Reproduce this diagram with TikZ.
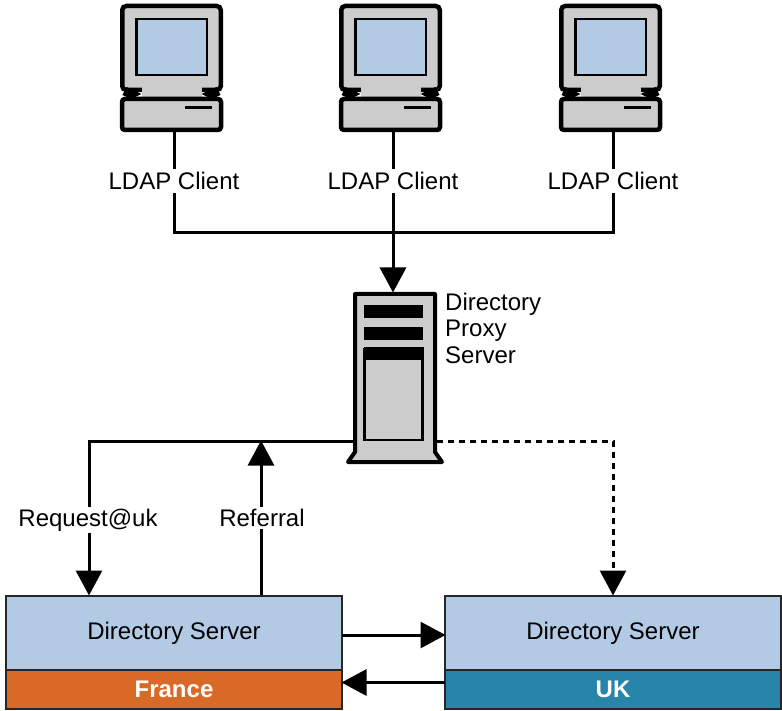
\documentclass[tikz,border=0pt]{standalone}
\usepackage{fontspec}
\setmainfont{Liberation Sans}
\usepackage{tikz}
\usetikzlibrary{arrows.meta,positioning}
\definecolor{screenblue}{HTML}{B3CAE4}
\definecolor{boxgrey}{HTML}{CCCCCC}
\definecolor{franceorange}{HTML}{D96927}
\definecolor{ukteal}{HTML}{2884A8}
\tikzset{
  every node/.append style={font=\fontsize{24}{26.5}\selectfont},
  link/.style={line width=3pt},
  arrowlink/.style={link, -{Triangle[length=25pt,width=26pt]}, shorten >=-0.5pt},
  server/.style={draw=black!85, line width=2.5pt, fill=screenblue, minimum width=336pt, minimum height=74pt, inner sep=0pt, outer sep=0pt},
  site/.style={draw=black!85, line width=2.5pt, minimum width=336pt, minimum height=39pt, inner sep=0pt, outer sep=0pt, text=white, font=\fontsize{24}{26.5}\selectfont\bfseries},
  pics/ldappc/.style={code={
    \fill[boxgrey, draw=black, line width=4.5pt, rounded corners=4pt] (-49.25,6) rectangle (49.25,90);
    \fill[black] (-45,87) -- (-30,94) -- (-40,99) -- (-49,95) -- cycle;
    \fill[black] (45,87) -- (30,94) -- (40,99) -- (49,95) -- cycle;
    \fill[boxgrey] (-30,84) rectangle (30,98);
    \draw[fill=screenblue, line width=2.5pt] (-35.25,19) rectangle (35.25,75);
    \node[draw=black, fill=boxgrey, line width=4.5pt, rounded corners=3pt, minimum width=99pt, minimum height=31pt, inner sep=0pt, outer sep=2pt] (-base) at (0,114.5) {};
    \draw[line width=3pt] (13.5,107.5) -- (40.5,107.5);
    \coordinate (-out) at (2.5,132);
  }},
}
\begin{document}
\begin{tikzpicture}[x=1pt,y=-1pt]
\useasboundingbox (0,0) rectangle (782,711);
% clients
\foreach \name/\xpos in {1/174,2/393,3/613}{
  \pic (PC\name) at (\xpos-2.5,0) {ldappc};
  \node (LABEL\name) at (\xpos,181) {LDAP Client};
  \draw[link] (PC\name-out) -- (LABEL\name);
}
\coordinate (JOIN) at (393,233);
\draw[link] (LABEL1) |- (JOIN) -| (LABEL3);
\draw[link] (LABEL2) -- (JOIN);
% proxy
\filldraw[fill=boxgrey, line width=4pt, line join=round] (355,294) -- (435,294) -- (435,452) -- (442,462) -- (348,462) -- (355,452) -- cycle;
\node[fill=black, minimum width=59pt, minimum height=13pt, inner sep=0pt] (SLOT1) at (393.5,311.5) {};
\node[fill=black, minimum width=59pt, minimum height=13pt, inner sep=0pt] (SLOT2) at (393.5,333.5) {};
\node[draw=black, fill=boxgrey, line width=2.5pt, minimum width=58pt, minimum height=91pt, inner sep=0pt] (BAY) at (393.5,394.5) {};
\node[fill=black, minimum width=60pt, minimum height=13pt, inner sep=0pt] (BAYTOP) at (393.5,354) {};
\node[align=left, anchor=north west, inner sep=0pt] (PROXYLABEL) at (445,292.5) {Directory\\Proxy\\Server};
\coordinate (PROXYTOP) at (393,292);
\coordinate (TAPLEFT) at (353,441);
\coordinate (TAPRIGHT) at (437,441);
\draw[arrowlink] (JOIN) -- (PROXYTOP);
% servers
\node[server] (DSFR) at (174,633) {Directory Server};
\node[server] (DSUK) at (613,633) {Directory Server};
\node[site, fill=franceorange, below=0pt of DSFR] (FRANCE) {France};
\node[site, fill=ukteal, below=0pt of DSUK] (UK) {UK};
\coordinate (REQUESTPOS) at (89,519);
\coordinate (REQUESTEND) at (89,595);
\coordinate (REFERRALTOP) at (261,441);
\coordinate (REFERRALEND) at (261,595);
\draw[link] (TAPLEFT) -| (REQUESTPOS);
\draw[arrowlink] (REQUESTPOS) -- (REQUESTEND);
\node[fill=white, inner sep=2pt] (REQUEST) at (88,520) {Request@uk};
\draw[arrowlink] (REFERRALEND) -- (REFERRALTOP);
\node[fill=white, inner sep=2pt] (REFERRAL) at (262,518) {Referral};
\draw[arrowlink, dash pattern=on 6pt off 5pt] (TAPRIGHT) -| ([yshift=1pt]DSUK.north);
\draw[arrowlink] ([yshift=-2pt]DSFR.east) -- ([yshift=-2pt]DSUK.west);
\draw[arrowlink] ([yshift=7pt]UK.west) -- ([yshift=7pt]FRANCE.east);
\end{tikzpicture}
\end{document}
